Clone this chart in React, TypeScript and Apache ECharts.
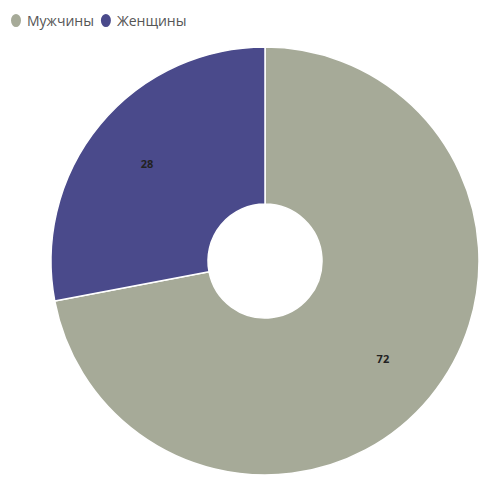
import React, { useEffect, useRef } from "react";
import * as echarts from "echarts";

const categories = ["Мужчины", "Женщины"];
const values = [72, 28];
const colors = ["#a6aa98", "#4a4a8b"];

export default function App() {
  const ref = useRef<HTMLDivElement>(null);
  useEffect(() => {
    if (!ref.current) return;
    const chart = echarts.init(ref.current, null, { renderer: "svg" });
    const data = categories.map((name, i) => ({ name, value: values[i] }));
    chart.setOption({
      animation: false,
      color: colors,
      legend: {
        left: 4,
        top: 7,
        icon: "path://M6,0 C9.3,0 12,3.4 12,7.5 C12,11.6 9.3,15 6,15 C2.7,15 0,11.6 0,7.5 C0,3.4 2.7,0 6,0 Z",
        itemWidth: 12,
        itemHeight: 15,
        itemGap: 5,
        textStyle: { color: "#555", fontSize: 14, fontFamily: "Open Sans" },
        data: categories,
      },
      series: [
        {
          type: "pie",
          center: [265, 261],
          radius: [57, 214],
          startAngle: 90,
          clockwise: true,
          data,
          itemStyle: { borderColor: "#fff", borderWidth: 1.5 },
          label: { show: false },
          labelLine: { show: false },
        },
        {
          type: "pie",
          center: [265, 261],
          radius: [86, 214],
          startAngle: 90,
          clockwise: true,
          silent: true,
          data,
          itemStyle: { color: "transparent" },
          label: {
            show: true,
            position: "inside",
            formatter: "{c}",
            color: "#222",
            fontSize: 11,
            fontWeight: "bold",
            fontFamily: "Open Sans",
          },
          labelLine: { show: false },
        },
      ],
    });
    return () => chart.dispose();
  }, []);
  return (
    <div
      ref={ref}
      style={{ position: "fixed", left: 0, top: 0, width: 479, height: 477, background: "#fff" }}
    />
  );
}
